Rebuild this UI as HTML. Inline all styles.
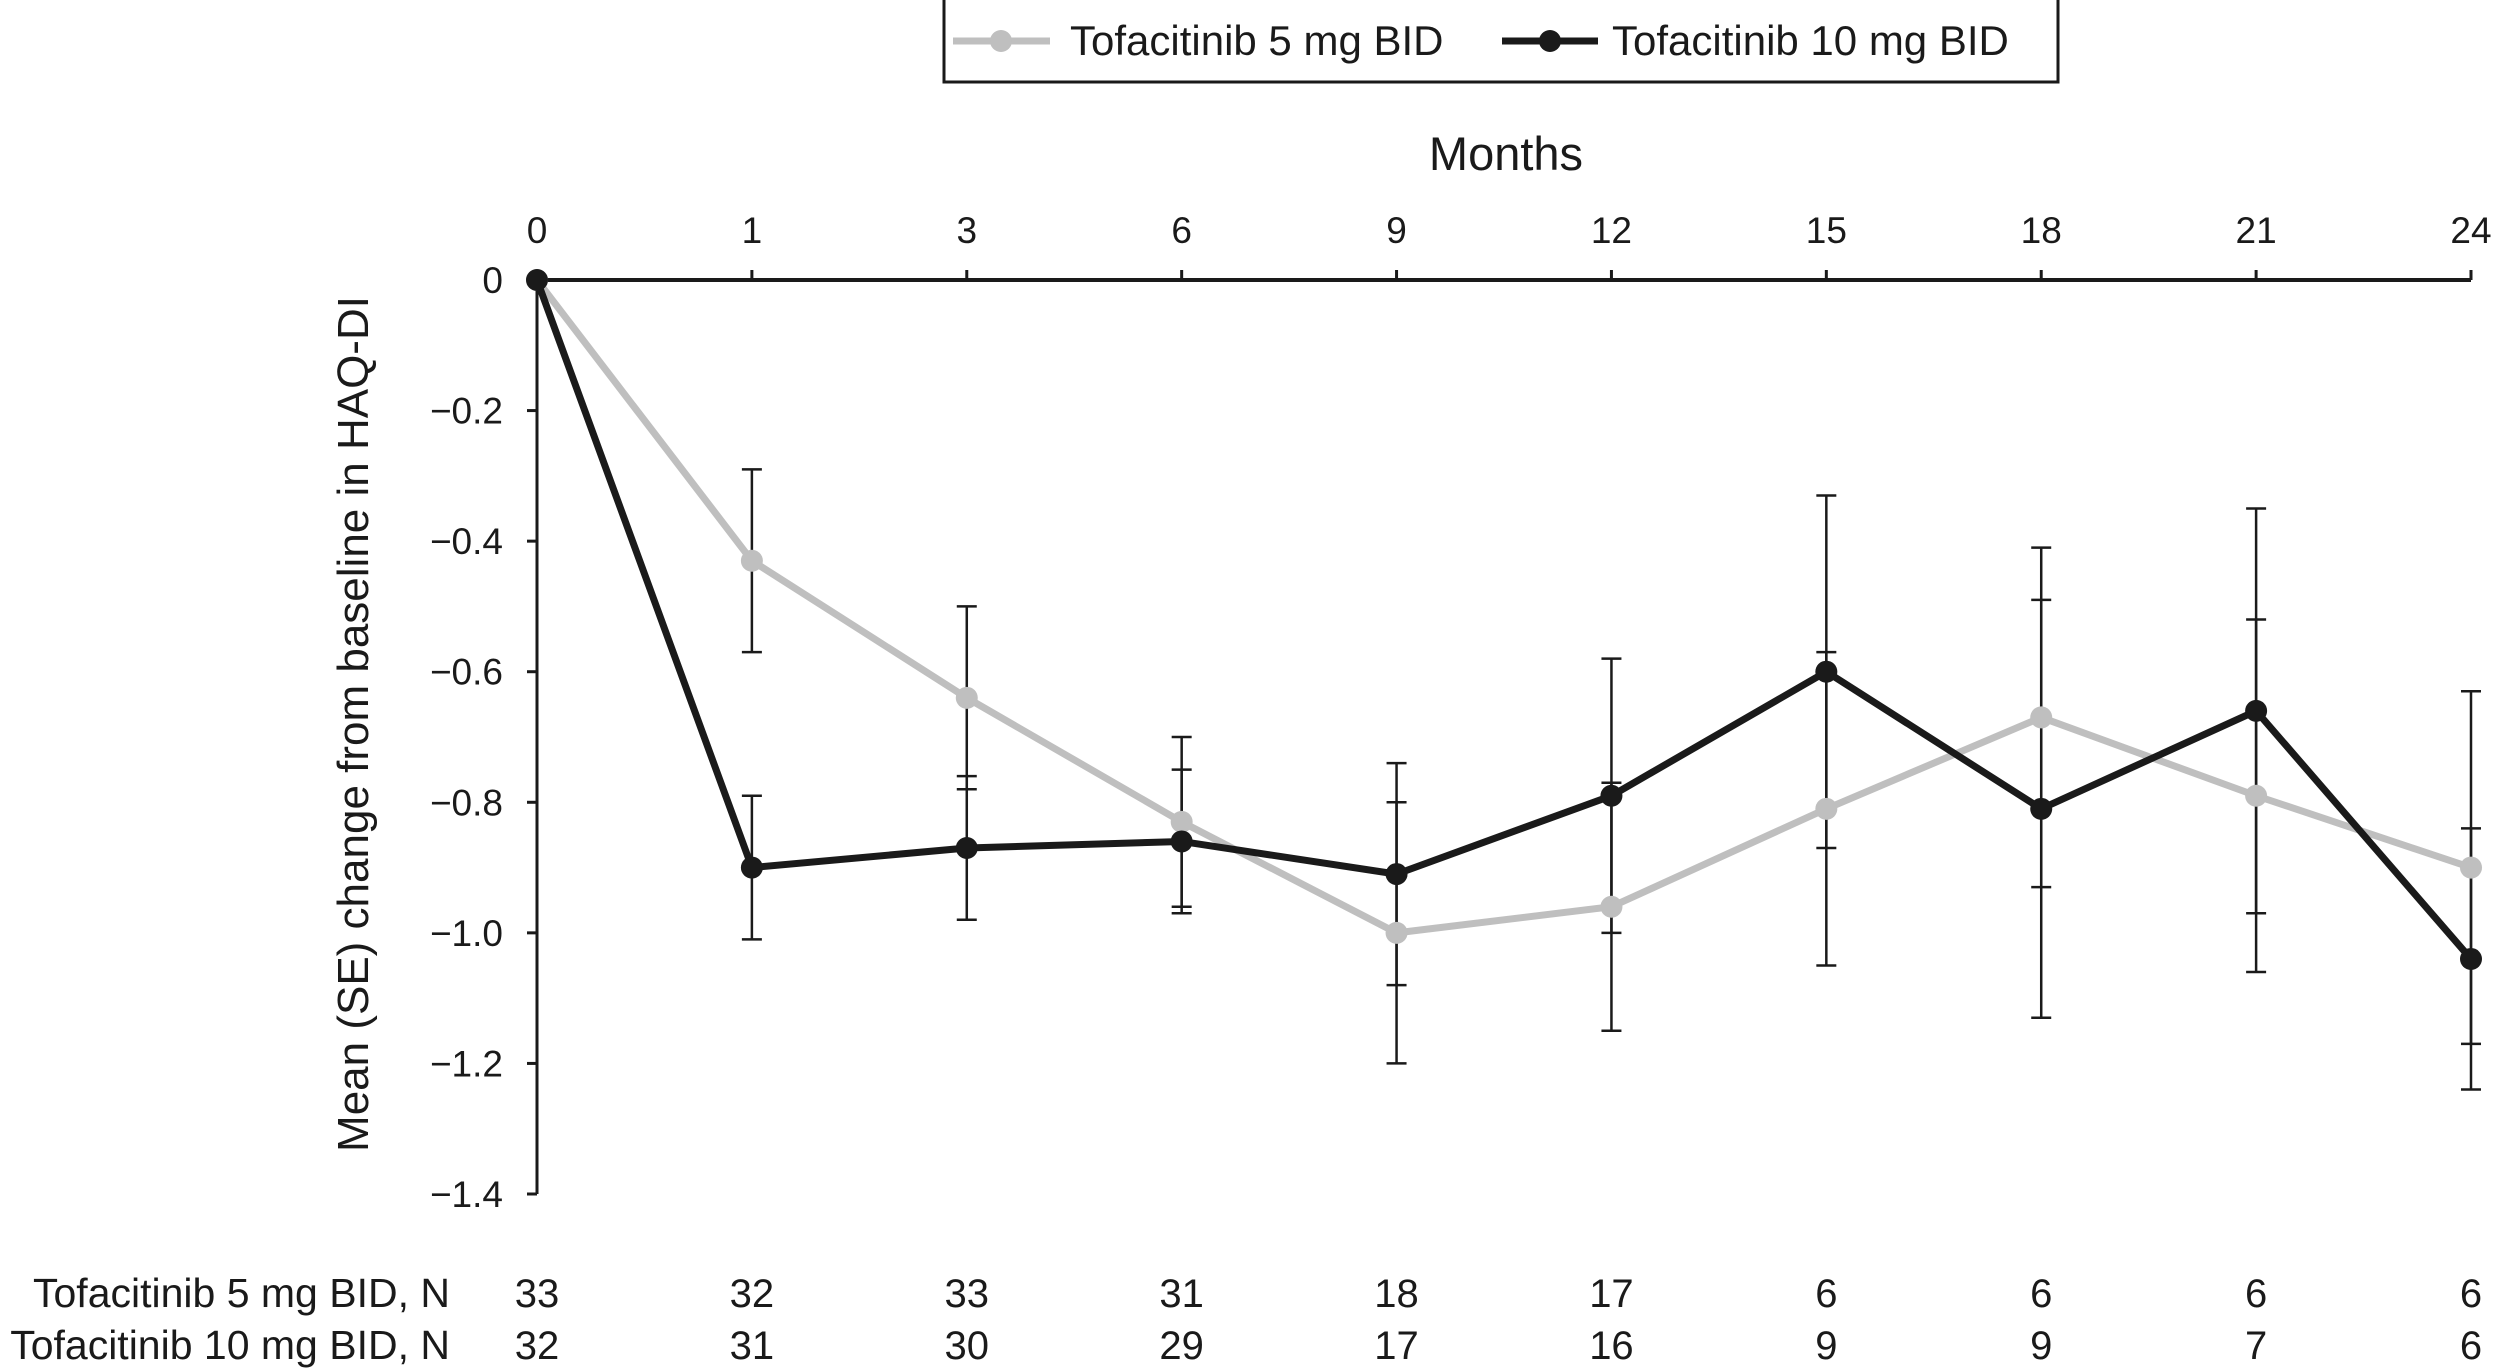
<!DOCTYPE html>
<html><head><meta charset="utf-8"><style>
html,body{margin:0;padding:0;background:#fff}
svg{display:block;font-family:"Liberation Sans",Arial,sans-serif}
</style></head><body>
<svg id="chart" width="2496" height="1371" viewBox="0 0 2496 1371" xmlns="http://www.w3.org/2000/svg">
<g>
<rect x="944" y="-2" width="1114" height="84" fill="#fff" stroke="#1a1a1a" stroke-width="3"/>
<g>
<line x1="953" y1="41" x2="1050" y2="41" stroke="#bfbfbf" stroke-width="7"/>
<circle cx="1001" cy="41" r="11" fill="#bfbfbf"/>
<text x="1070" y="55" font-size="42" fill="#1a1a1a">Tofacitinib 5 mg BID</text>
</g>
<g>
<line x1="1502" y1="41" x2="1598" y2="41" stroke="#1a1a1a" stroke-width="7"/>
<circle cx="1550" cy="41" r="11" fill="#1a1a1a"/>
<text x="1612" y="55" font-size="42" fill="#1a1a1a">Tofacitinib 10 mg BID</text>
</g>
</g>
<text x="1506" y="170" font-size="47" text-anchor="middle" fill="#1a1a1a">Months</text>
<text transform="translate(368,724) rotate(-90)" font-size="44" text-anchor="middle" fill="#1a1a1a">Mean (SE) change from baseline in HAQ-DI</text>
<g id="axes"></g>
<g id="errs"></g>
<g id="series"></g>
<g id="ntable"></g>
</svg>
<script>
const months = ["0","1","3","6","9","12","15","18","21","24"];
const yTicks = [0,-0.2,-0.4,-0.6,-0.8,-1.0,-1.2,-1.4];
const mean5 = [0,-0.43,-0.64,-0.83,-1.00,-0.96,-0.81,-0.67,-0.79,-0.90];
const se5 = [0,0.14,0.14,0.13,0.20,0.19,0.24,0.26,0.27,0.27];
const mean10 = [0,-0.90,-0.87,-0.86,-0.91,-0.79,-0.60,-0.81,-0.66,-1.04];
const se10 = [0,0.11,0.11,0.11,0.17,0.21,0.27,0.32,0.31,0.20];
const n5 = [33,32,33,31,18,17,6,6,6,6];
const n10 = [32,31,30,29,17,16,9,9,7,6];
const NS="http://www.w3.org/2000/svg";
const X0=537,X1=2471,Y0=280,Y1=1194;
const xs=i=>X0+(X1-X0)*i/(months.length-1);
const ys=v=>Y0+(Y1-Y0)*(v/-1.4);
function mk(tag,attrs,parent,txt){const e=document.createElementNS(NS,tag);for(const k in attrs)e.setAttribute(k,attrs[k]);if(txt!==undefined)e.textContent=txt;parent.appendChild(e);return e;}
const axes=document.getElementById('axes');
let l=mk('line',{x1:X0,y1:Y0,x2:X1,y2:Y0,stroke:'#1a1a1a','stroke-width':4},axes);


l=mk('line',{x1:X0,y1:Y0,x2:X0,y2:Y1,stroke:'#1a1a1a','stroke-width':3},axes);


months.forEach((m,i)=>{
  mk('line',{x1:xs(i),y1:Y0,x2:xs(i),y2:Y0-10,stroke:'#1a1a1a','stroke-width':3},axes);
  const t=mk('text',{x:xs(i),y:243,'font-size':37,'text-anchor':'middle',fill:'#1a1a1a'},axes,m);
  
  
});
yTicks.forEach(v=>{
  mk('line',{x1:X0,y1:ys(v),x2:X0-10,y2:ys(v),stroke:'#1a1a1a','stroke-width':3},axes);
  const t=mk('text',{x:503,y:ys(v)+13,'font-size':37,'text-anchor':'end',fill:'#1a1a1a'},axes,v===0?'0':'\u2212'+Math.abs(v).toFixed(1));
  
  
});
const errs=document.getElementById('errs');
function errBars(mean,se,name){
  mean.forEach((m,i)=>{
    if(se[i]===0)return;
    const g=mk('g',{stroke:'#1a1a1a','stroke-width':2.5},errs);
    
    
    const x=xs(i),a=ys(m+se[i]),b=ys(m-se[i]);
    mk('line',{x1:x,y1:a,x2:x,y2:b},g);
    mk('line',{x1:x-10,y1:a,x2:x+10,y2:a},g);
    mk('line',{x1:x-10,y1:b,x2:x+10,y2:b},g);
  });
}
errBars(mean5,se5,'5mg');errBars(mean10,se10,'10mg');
const ser=document.getElementById('series');
function series(mean,col,name){
  const g=mk('g',{},ser);
  
  
  mk('polyline',{points:mean.map((m,i)=>xs(i)+','+ys(m)).join(' '),fill:'none',stroke:col,'stroke-width':7,'stroke-linejoin':'miter'},g);
  mean.forEach((m,i)=>{
    const c=mk('circle',{cx:xs(i),cy:ys(m),r:11,fill:col},g);
    
    
  });
}
series(mean5,'#bfbfbf','5mg');series(mean10,'#1a1a1a','10mg');
const nt=document.getElementById('ntable');
[[n5,'Tofacitinib 5 mg BID, N',1307],[n10,'Tofacitinib 10 mg BID, N',1359]].forEach(([arr,lab,y])=>{
  const t=mk('text',{x:450,y:y,'font-size':41,'text-anchor':'end',fill:'#1a1a1a'},nt,lab);
  
  
  arr.forEach((n,i)=>{
    const c=mk('text',{x:xs(i),y:y,'font-size':40,'text-anchor':'middle',fill:'#1a1a1a'},nt,String(n));
    
    
  });
});
</script>
</body></html>
